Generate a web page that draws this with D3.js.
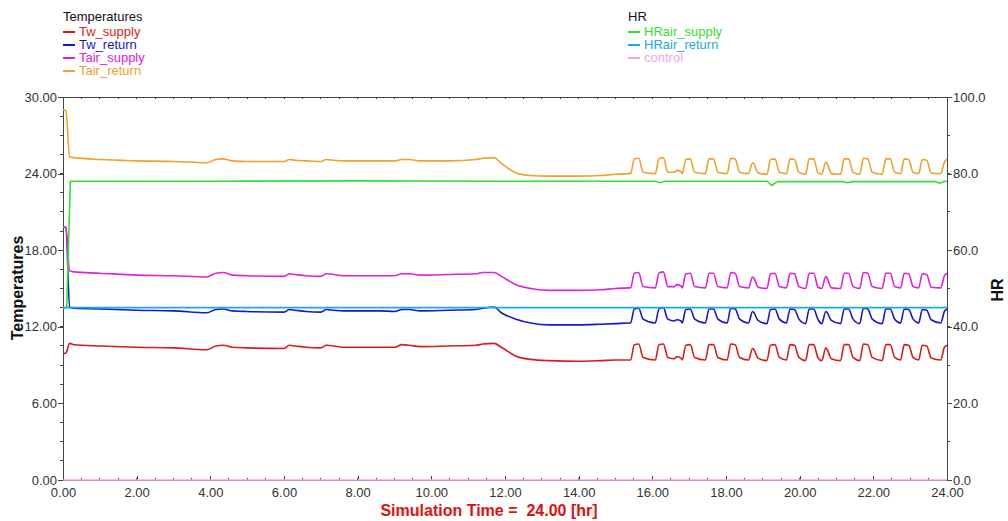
<!DOCTYPE html>
<html>
<head>
<meta charset="utf-8">
<script src="https://cdn.jsdelivr.net/npm/d3@7/dist/d3.min.js"></script>
<style>
  html,body{margin:0;padding:0;background:#fff;}
  svg{display:block;font-family:"Liberation Sans",Arial,sans-serif;}
  .tick text{font-size:13px;fill:#333;}
</style>
</head>
<body>
<svg id="chart" width="1008" height="521"></svg>
<script>
/* ---- data ---- */
// shared time axis (hr) for the temperature series
const tTemp = [
  0, 0.08, 0.18, 0.3, 1, 2, 3, 3.9, 4.15, 4.35, 4.6, 5, 6, 6.15, 6.3, 6.6, 7.0, 7.15, 7.35, 7.6,
  8, 8.6, 9.0, 9.2, 9.4, 9.7, 10.5, 11.2, 11.4, 11.7, 11.9, 12.3, 12.7, 13.2, 14.0, 14.6, 15.0, 15.35,
  15.41, 15.51, 15.63, 15.75,
  16.08, 16.18, 16.30, 16.42,
  16.60, 16.66, 16.78,
  16.81, 16.91, 17.03, 17.15,
  17.44, 17.54, 17.66, 17.78,
  18.03, 18.13, 18.25, 18.37,
  18.61, 18.72, 18.76, 18.87,
  19.11, 19.21, 19.33, 19.45,
  19.64, 19.74, 19.86, 19.98,
  20.16, 20.26, 20.38, 20.50,
  20.60, 20.71, 20.75, 20.86,
  21.11, 21.21, 21.33, 21.45,
  21.63, 21.73, 21.85, 21.97,
  22.24, 22.34, 22.46, 22.58,
  22.74, 22.84, 22.96, 23.08,
  23.23, 23.33, 23.45, 23.57,
  23.83, 23.93, 24.0
];
const twSupply = [
  9.9, 9.95, 10.7, 10.6, 10.5, 10.4, 10.35, 10.2, 10.5, 10.55, 10.4, 10.35, 10.3, 10.55, 10.5, 10.4, 10.35, 10.55, 10.5, 10.4,
  10.4, 10.4, 10.4, 10.6, 10.55, 10.45, 10.5, 10.55, 10.65, 10.7, 10.4, 9.7, 9.45, 9.35, 9.3, 9.35, 9.4, 9.4,
  9.4, 10.6, 10.65, 9.6,
  9.4, 10.6, 10.65, 9.6,
  9.5, 9.65, 9.55,
  9.4, 10.55, 10.6, 9.6,
  9.4, 10.6, 10.6, 9.6,
  9.4, 10.65, 10.6, 9.6,
  9.4, 10.3, 10.2, 9.55,
  9.35, 10.55, 10.6, 9.6,
  9.4, 10.6, 10.55, 9.6,
  9.35, 10.6, 10.6, 9.55,
  9.35, 10.35, 10.2, 9.5,
  9.35, 10.6, 10.6, 9.6,
  9.35, 10.65, 10.6, 9.6,
  9.35, 10.6, 10.6, 9.6,
  9.4, 10.6, 10.55, 9.6,
  9.4, 10.55, 10.5, 9.55,
  9.4, 10.4, 10.55
];
const twReturn = [
  19.8, 19.8, 13.55, 13.45, 13.4, 13.3, 13.25, 13.1, 13.35, 13.4, 13.25, 13.2, 13.15, 13.35, 13.3, 13.2, 13.15, 13.35, 13.3, 13.25,
  13.25, 13.25, 13.2, 13.35, 13.35, 13.25, 13.3, 13.35, 13.45, 13.55, 13.1, 12.6, 12.3, 12.15, 12.15, 12.2, 12.25, 12.3,
  12.3, 13.4, 13.45, 12.6,
  12.3, 13.4, 13.5, 12.6,
  12.45, 12.55, 12.45,
  12.3, 13.35, 13.4, 12.6,
  12.3, 13.4, 13.4, 12.6,
  12.3, 13.45, 13.4, 12.6,
  12.3, 13.2, 13.1, 12.5,
  12.25, 13.35, 13.4, 12.6,
  12.3, 13.4, 13.35, 12.6,
  12.25, 13.4, 13.4, 12.55,
  12.25, 13.2, 13.1, 12.5,
  12.25, 13.4, 13.4, 12.6,
  12.25, 13.45, 13.4, 12.6,
  12.25, 13.4, 13.4, 12.6,
  12.3, 13.4, 13.35, 12.6,
  12.3, 13.35, 13.3, 12.55,
  12.3, 13.2, 13.4
];
const tairSupply = [
  19.8, 19.8, 16.4, 16.3, 16.2, 16.05, 16.0, 15.9, 16.2, 16.25, 16.05, 16.0, 15.95, 16.15, 16.1, 16.0, 15.95, 16.15, 16.1, 16.0,
  16.0, 16.0, 16.0, 16.15, 16.15, 16.05, 16.1, 16.15, 16.25, 16.25, 15.95, 15.3, 15.0, 14.85, 14.85, 14.9, 15.0, 15.05,
  15.05, 16.2, 16.25, 15.15,
  15.05, 16.2, 16.3, 15.15,
  15.15, 15.3, 15.2,
  15.05, 16.15, 16.2, 15.15,
  15.05, 16.2, 16.2, 15.15,
  15.05, 16.25, 16.2, 15.15,
  15.05, 15.9, 15.8, 15.1,
  15.0, 16.15, 16.2, 15.15,
  15.05, 16.2, 16.15, 15.15,
  15.0, 16.2, 16.2, 15.1,
  15.0, 15.95, 15.8, 15.05,
  15.0, 16.2, 16.2, 15.15,
  15.0, 16.25, 16.2, 15.15,
  15.0, 16.2, 16.2, 15.15,
  15.05, 16.2, 16.15, 15.15,
  15.05, 16.15, 16.1, 15.1,
  15.05, 16.0, 16.2
];
const tairReturn = [
  29.0, 28.9, 25.3, 25.25, 25.1, 25.0, 24.95, 24.85, 25.1, 25.15, 25.0, 24.95, 24.95, 25.1, 25.05, 25.0, 24.95, 25.1, 25.05, 25.0,
  25.0, 25.0, 25.0, 25.1, 25.1, 25.0, 25.0, 25.1, 25.2, 25.25, 24.8, 24.05, 23.85, 23.8, 23.8, 23.85, 23.95, 24.0,
  24.0, 25.15, 25.2, 24.1,
  24.0, 25.15, 25.25, 24.1,
  24.1, 24.25, 24.15,
  24.0, 25.1, 25.15, 24.1,
  24.0, 25.15, 25.15, 24.1,
  24.0, 25.2, 25.15, 24.1,
  24.0, 24.85, 24.75, 24.05,
  23.95, 25.1, 25.15, 24.1,
  24.0, 25.15, 25.1, 24.1,
  23.95, 25.15, 25.15, 24.05,
  23.95, 24.9, 24.75, 24.0,
  23.95, 25.15, 25.15, 24.1,
  23.95, 25.2, 25.15, 24.1,
  23.95, 25.15, 25.15, 24.1,
  24.0, 25.15, 25.1, 24.1,
  24.0, 25.1, 25.05, 24.05,
  24.0, 24.9, 25.15
];

// HR series (right axis)
const tHrSupply  = [0, 0.1, 0.2, 4, 8, 12, 16.1, 16.2, 16.35, 19.12, 19.24, 19.4, 21.2, 21.3, 21.4, 23.7, 23.8, 23.9, 24];
const hrSupply   = [45, 45, 78, 78, 78.1, 78, 78, 77.6, 78, 78, 76.9, 77.9, 77.9, 77.6, 77.9, 77.9, 77.5, 77.9, 78];
const tHrReturn  = [0, 24];
const hrReturn   = [45, 45];
const tControl   = [0, 24];
const control    = [0, 0];

const xTicks     = d3.range(0, 24.01, 2);
const leftTicks  = [0, 6, 12, 18, 24, 30];
const rightTicks = [0, 20, 40, 60, 80, 100];

const tempSeries = [
  {name:'Tw_supply',   t:tTemp, v:twSupply,   color:'#d81c1c'},
  {name:'Tw_return',   t:tTemp, v:twReturn,   color:'#1818c8'},
  {name:'Tair_supply', t:tTemp, v:tairSupply, color:'#e020e0'},
  {name:'Tair_return', t:tTemp, v:tairReturn, color:'#f0a02c'}
];
const hrSeries = [
  {name:'HRair_supply', t:tHrSupply, v:hrSupply, color:'#33e033'},
  {name:'HRair_return', t:tHrReturn, v:hrReturn, color:'#1aa8ee'},
  {name:'control',      t:tControl,  v:control,  color:'#f2a4ee'}
];

/* ---- layout ---- */
const svg = d3.select('#chart');
const L = 63, R = 947, T = 97, B = 480;
const x  = d3.scaleLinear().domain([0, 24]).range([L, R]);
const yL = d3.scaleLinear().domain([0, 30]).range([B, T]);
const yR = d3.scaleLinear().domain([0, 100]).range([B, T]);

// frame
svg.append('rect').attr('x', L).attr('y', T).attr('width', R - L).attr('height', B - T)
  .attr('fill', 'none').attr('stroke', '#444').attr('stroke-width', 1).attr('shape-rendering', 'crispEdges');

// minor ticks
const minor = svg.append('g').attr('stroke', '#444').attr('shape-rendering', 'crispEdges');
d3.range(0, 30.01, 1.5).forEach(v => minor.append('line').attr('x1', L - 3).attr('x2', L).attr('y1', yL(v)).attr('y2', yL(v)));
d3.range(0, 100.1, 10).forEach(v => minor.append('line').attr('x1', R).attr('x2', R + 3).attr('y1', yR(v)).attr('y2', yR(v)));
d3.range(0, 24.01, 0.5).forEach(v => {
  minor.append('line').attr('x1', x(v)).attr('x2', x(v)).attr('y1', B).attr('y2', B - 2);
  minor.append('line').attr('x1', x(v)).attr('x2', x(v)).attr('y1', T).attr('y2', T + 2);
});

// axes
const ax = g => g.call(s => s.select('.domain').remove())
  .call(s => s.selectAll('.tick line').attr('stroke', '#444').attr('shape-rendering', 'crispEdges'));
svg.append('g').attr('transform', `translate(${L},0)`)
  .call(d3.axisLeft(yL).tickValues(leftTicks).tickFormat(d3.format('.2f')).tickSize(5).tickPadding(1)).call(ax);
svg.append('g').attr('transform', `translate(${R},0)`)
  .call(d3.axisRight(yR).tickValues(rightTicks).tickFormat(d3.format('.1f')).tickSize(5).tickPadding(1)).call(ax);
svg.append('g').attr('transform', `translate(0,${B})`)
  .call(d3.axisBottom(x).tickValues(xTicks).tickFormat(d3.format('.2f')).tickSizeInner(-4).tickSizeOuter(0).tickPadding(8)).call(ax);

// axis titles
svg.append('text').attr('transform', 'translate(23,288) rotate(-90)').attr('text-anchor', 'middle')
  .attr('font-size', 16).attr('font-weight', 'bold').attr('fill', '#111').text('Temperatures');
svg.append('text').attr('transform', 'translate(1003,290) rotate(-90)').attr('text-anchor', 'middle')
  .attr('font-size', 16).attr('font-weight', 'bold').attr('fill', '#111').text('HR');
svg.append('text').attr('x', 489).attr('y', 516).attr('text-anchor', 'middle').style('white-space', 'pre')
  .attr('font-size', 16).attr('font-weight', 'bold').attr('fill', '#e01010').text('Simulation Time =  24.00 [hr]');

// lines
const plot = svg.append('g');
const lineL = d3.line().curve(d3.curveMonotoneX).x(d => x(d[0])).y(d => yL(d[1]));
const lineR = d3.line().x(d => x(d[0])).y(d => yR(d[1]));
tempSeries.forEach(s => plot.append('path').datum(s.t.map((t, i) => [t, s.v[i]]))
  .attr('d', lineL).attr('fill', 'none').attr('stroke', s.color).attr('stroke-width', 1.6).attr('stroke-linejoin', 'round'));
hrSeries.forEach(s => plot.append('path').datum(s.t.map((t, i) => [t, s.v[i]]))
  .attr('d', lineR).attr('fill', 'none').attr('stroke', s.color).attr('stroke-width', 1.6).attr('stroke-linejoin', 'round'));

// legends
function legend(x0, title, series){
  const g = svg.append('g').attr('font-size', 13);
  g.append('text').attr('x', x0).attr('y', 21).attr('fill', '#111').text(title);
  series.forEach((s, i) => {
    const yy = 36 + i * 13;
    g.append('line').attr('x1', x0).attr('x2', x0 + 12).attr('y1', yy - 4).attr('y2', yy - 4)
      .attr('stroke', s.color).attr('stroke-width', 2);
    g.append('text').attr('x', x0 + 16).attr('y', yy).attr('fill', s.color).text(s.name);
  });
}
legend(63, 'Temperatures', tempSeries);
legend(628, 'HR', hrSeries);
</script>
</body>
</html>
